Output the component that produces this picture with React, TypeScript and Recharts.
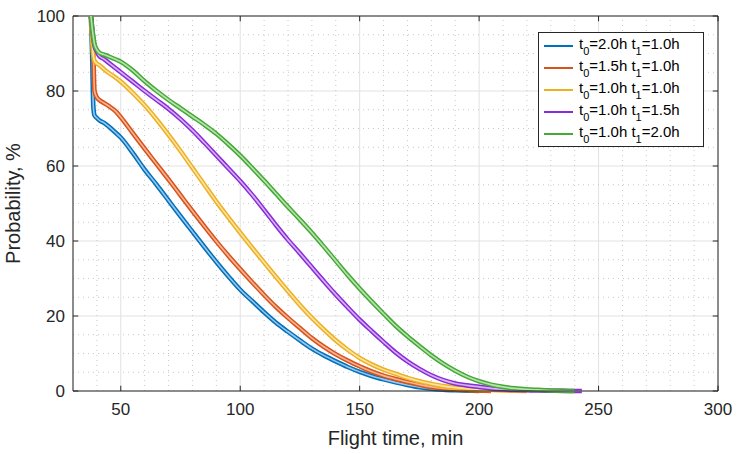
import React from 'react';
import { LineChart, Line, XAxis, YAxis, CartesianGrid, ReferenceLine, Legend, Label } from 'recharts';

// flight time grid, min
const times = [
  37.5, 38, 38.5, 39, 40, 41, 43, 45, 48, 50, 55, 60, 65, 70, 75, 80, 85, 90, 95, 100,
  105, 110, 115, 120, 125, 130, 135, 140, 145, 150, 155, 160, 165, 170, 175, 180, 185, 190, 195, 200,
  205, 210, 215, 220, 225, 230, 235, 240, 243,
];

// probability, % (null = curve ended)
const probT20T10 = [
  100, 90, 76, 73.5, 72.8, 72.2, 71.5, 70.5, 68.8, 67.6, 63.5, 59, 55, 50.8, 46.6, 42.5, 38.4, 34.4, 30.6, 27,
  24, 21, 18.2, 15.8, 13.5, 11.3, 9.5, 7.9, 6.4, 5.1, 4, 3.1, 2.3, 1.6, 1, 0.6, 0.35, 0.2, 0.1, 0,
  null, null, null, null, null, null, null, null, null,
];
const probT15T10 = [
  100, 95, 90, 80, 78.3, 77.6, 76.8, 76, 74.5, 73, 68.8, 64.6, 60.5, 56.4, 52.2, 48, 43.9, 39.9, 36.1, 32.5,
  29, 25.6, 22.4, 19.5, 16.8, 14.1, 11.8, 9.8, 8.1, 6.6, 5.2, 4.1, 3.2, 2.4, 1.7, 1.1, 0.7, 0.4, 0.2, 0.1,
  0, null, null, null, null, null, null, null, null,
];
const probT10T10 = [
  100, 94, 89.5, 88, 87.3, 86.9, 85.8, 84.8, 83.5, 82.5, 79.5, 76.2, 72.4, 68.3, 64, 59.5, 55, 50.5, 46.3, 42.2,
  38.2, 34.3, 30.4, 26.6, 22.9, 19.5, 16.4, 13.5, 11, 8.8, 7.1, 5.7, 4.6, 3.5, 2.6, 1.9, 1.3, 0.9, 0.6, 0.4,
  0.25, 0.15, 0.05, 0, null, null, null, null, null,
];
const probT10T15 = [
  100, 97, 94, 92, 90.5, 89.3, 88.5, 87.5, 86, 85, 82.5, 80, 77.6, 75.2, 72.5, 69.5, 66.2, 62.8, 59.4, 56,
  52.3, 48.3, 44.2, 40.3, 36.7, 33, 29.3, 25.7, 22.3, 19, 16, 13.1, 10.3, 7.9, 5.9, 4.2, 2.9, 2, 1.5, 1.1,
  0.7, 0.45, 0.3, 0.2, 0.12, 0.07, 0.03, 0.01, 0,
];
const probT10T20 = [
  100, 97, 94.5, 92.5, 91, 90.2, 89.7, 89.2, 88.4, 87.8, 85.5, 82.6, 80, 77.6, 75.4, 73.2, 71, 68.6, 65.8, 62.8,
  59.5, 56.1, 52.6, 49.1, 45.7, 42.2, 38.5, 34.7, 30.9, 27.3, 23.9, 20.6, 17.4, 14.6, 12, 9.5, 7.3, 5.4, 3.8, 2.6,
  1.7, 1.1, 0.7, 0.45, 0.3, 0.15, 0.05, 0, null,
];

const xTicks = [50, 100, 150, 200, 250, 300];
const yTicks = [0, 20, 40, 60, 80, 100];
const xMinor = [40, 60, 70, 80, 90, 110, 120, 130, 140, 160, 170, 180, 190, 210, 220, 230, 240, 260, 270, 280, 290];
const yMinor = [5, 10, 15, 25, 30, 35, 45, 50, 55, 65, 70, 75, 85, 90, 95];

const series = [
  { key: 'a', label: ['2.0', '1.0'], values: probT20T10, color: '#0072BD', light: '#9cc6ea' },
  { key: 'b', label: ['1.5', '1.0'], values: probT15T10, color: '#D95319', light: '#f5b598' },
  { key: 'c', label: ['1.0', '1.0'], values: probT10T10, color: '#EDB120', light: '#fbe3a8' },
  { key: 'd', label: ['1.0', '1.5'], values: probT10T15, color: '#8A2BD9', light: '#d6b4f5' },
  { key: 'e', label: ['1.0', '2.0'], values: probT10T20, color: '#45A935', light: '#b8e2b0' },
];

const data = times.map((t, i) => {
  const row: Record<string, number | null> = { t };
  series.forEach(s => { row[s.key] = s.values[i]; });
  return row;
});

const AXIS = '#262626';
const FONT = '"Liberation Sans", Arial, Helvetica, sans-serif';

const subStyle: React.CSSProperties = { fontSize: 11, verticalAlign: -6, lineHeight: 0 };

const LegendBox = () => (
  <div style={{ background: '#fff', border: `1px solid ${AXIS}`, width: 166, height: 115, padding: '2px 0', boxSizing: 'border-box', fontFamily: FONT, fontSize: 15, color: '#000' }}>
    {series.map(s => (
      <div key={s.key} style={{ display: 'flex', alignItems: 'center', height: 22, lineHeight: '15px' }}>
        <span style={{ display: 'inline-block', width: 29, height: 2, background: s.color, marginLeft: 5, marginRight: 6 }} />
        <span style={{ whiteSpace: 'nowrap', position: 'relative', top: -3 }}>
          t<sub style={subStyle}>0</sub>={s.label[0]}h t<sub style={subStyle}>1</sub>={s.label[1]}h
        </span>
      </div>
    ))}
  </div>
);

export default function App() {
  return (
    <div style={{ position: 'absolute', left: 0, top: 0, background: '#fff' }}>
      <LineChart width={741} height={454} data={data} margin={{ top: 16, right: 23, bottom: 0, left: 0 }}>
        <CartesianGrid stroke="#e2e2e2" />
        {xMinor.map(v => (
          <ReferenceLine key={`xm${v}`} x={v} stroke="#c8c8c8" strokeDasharray="1 4" />
        ))}
        {yMinor.map(v => (
          <ReferenceLine key={`ym${v}`} y={v} stroke="#c8c8c8" strokeDasharray="1 4" />
        ))}
        <XAxis
          type="number"
          dataKey="t"
          domain={[30, 300]}
          ticks={xTicks}
          allowDataOverflow
          height={63}
          tickLine={false}
          tickSize={0}
          tickMargin={12}
          axisLine={{ stroke: AXIS }}
          tick={{ fill: AXIS, fontSize: 17, fontFamily: FONT }}
        >
          <Label value="Flight time, min" position="insideBottom" offset={9} fill={AXIS} fontSize={20} fontFamily={FONT} />
        </XAxis>
        <YAxis
          type="number"
          domain={[0, 100]}
          ticks={yTicks}
          width={73}
          tickLine={false}
          tickSize={0}
          tickMargin={8}
          axisLine={{ stroke: AXIS }}
          tick={{ fill: AXIS, fontSize: 17, fontFamily: FONT }}
        >
          <Label value="Probability, %" angle={-90} position="insideLeft" offset={13} style={{ textAnchor: 'middle' }} fill={AXIS} fontSize={20} fontFamily={FONT} />
        </YAxis>
        <ReferenceLine y={100} stroke={AXIS} />
        <ReferenceLine x={300} stroke={AXIS} />
        {xTicks.map(v => (
          <ReferenceLine key={`xtb${v}`} segment={[{ x: v, y: 0 }, { x: v, y: 1.4 }]} stroke={AXIS} />
        ))}
        {xTicks.map(v => (
          <ReferenceLine key={`xtt${v}`} segment={[{ x: v, y: 100 }, { x: v, y: 98.6 }]} stroke={AXIS} />
        ))}
        {yTicks.map(v => (
          <ReferenceLine key={`ytl${v}`} segment={[{ x: 30, y: v }, { x: 32.2, y: v }]} stroke={AXIS} />
        ))}
        {yTicks.map(v => (
          <ReferenceLine key={`ytr${v}`} segment={[{ x: 300, y: v }, { x: 297.8, y: v }]} stroke={AXIS} />
        ))}
        {series.flatMap(s => [
          <Line key={`${s.key}-o`} dataKey={s.key} type="monotone" stroke={s.color} strokeWidth={4.6} dot={false} activeDot={false} isAnimationActive={false} connectNulls={false} />,
          <Line key={`${s.key}-i`} dataKey={s.key} type="monotone" stroke={s.light} strokeWidth={1.6} dot={false} activeDot={false} isAnimationActive={false} connectNulls={false} />,
        ])}
        <Legend
          layout="vertical"
          align="center"
          verticalAlign="middle"
          content={() => <LegendBox />}
          wrapperStyle={{ left: 538, top: 32, width: 166, height: 115 }}
        />
      </LineChart>
    </div>
  );
}
